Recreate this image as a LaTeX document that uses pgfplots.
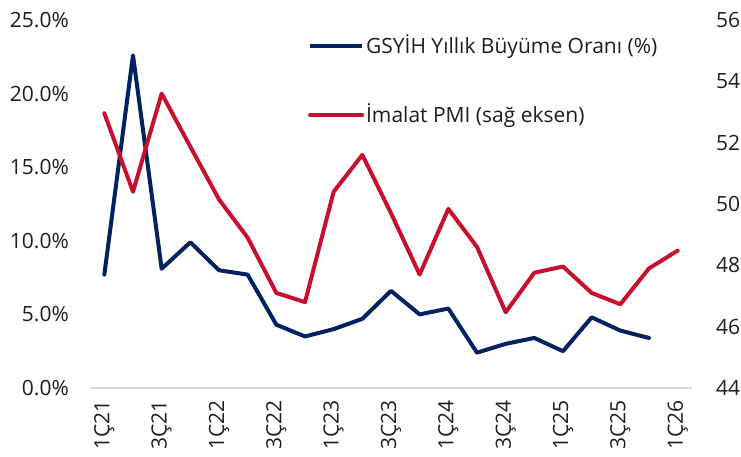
\documentclass[border=0pt]{standalone}
\usepackage{fontspec}
\setmainfont{Open Sans}
\usepackage{pgfplots}
\pgfplotsset{compat=1.18}
\definecolor{navy}{RGB}{0,35,95}
\definecolor{pmired}{RGB}{200,16,46}
\definecolor{axgray}{RGB}{217,217,217}
\definecolor{txt}{RGB}{30,30,30}

\begin{document}
\begin{tikzpicture}
\fontsize{21}{25}\selectfont
\path[use as bounding box] (-90pt,-69pt) rectangle (651pt,388pt);
\pgfplotsset{
  every axis/.append style={
    scale only axis, width=602pt, height=368pt,
    xmin=-0.5, xmax=20.5,
    /pgf/number format/assume math mode=true,
    major tick length=0pt,
    tick label style={font=\fontsize{21}{25}\selectfont, text=txt},
    clip=false,
  }
}
\begin{axis}[
  axis y line*=left, axis x line*=bottom,
  ymin=0, ymax=25, ytick={0,5,...,25},
  yticklabel={\pgfmathprintnumber[fixed,fixed zerofill,precision=1]{\tick}\%},
  yticklabel shift=14pt,
  y axis line style={draw=none},
  x axis line style={draw=axgray, line width=2pt, -},
  xtick={0,2,...,20},
  xticklabels={1Ç21,3Ç21,1Ç22,3Ç22,1Ç23,3Ç23,1Ç24,3Ç24,1Ç25,3Ç25,1Ç26},
  xticklabel style={rotate=90, anchor=east},
  xticklabel shift=5pt,
]
\addplot[navy, line width=4pt, line join=round, line cap=round] coordinates {
(0,7.7) (1,22.6) (2,8.1) (3,9.9) (4,8.0) (5,7.7) (6,4.3) (7,3.5) (8,4.0) (9,4.7)
(10,6.6) (11,5.0) (12,5.4) (13,2.4) (14,3.0) (15,3.4) (16,2.5) (17,4.8) (18,3.9) (19,3.4)
};
\end{axis}
\begin{axis}[
  axis y line*=right, axis x line=none,
  ymin=44, ymax=56, ytick={44,46,...,56},
  y axis line style={draw=none},
  yticklabel shift=17pt,
  legend image code/.code={\draw[#1] (0pt,0pt) -- (52pt,0pt);},
  legend cell align=left,
  legend style={at={(0.362,0.965)}, anchor=north west, draw=none, fill=none,
    inner sep=0pt, row sep=43pt, font=\fontsize{21}{25}\selectfont, text=txt},
]
\addlegendimage{navy, line width=4pt}
\addlegendentry{GSYİH Yıllık Büyüme Oranı (\%)}
\addplot[pmired, line width=4pt, line join=round, line cap=round] coordinates {
(0,52.96) (1,50.4) (2,53.6) (3,51.87) (4,50.15) (5,48.9) (6,47.1) (7,46.8) (8,50.4) (9,51.6)
(10,49.7) (11,47.7) (12,49.84) (13,48.6) (14,46.47) (15,47.76) (16,47.96) (17,47.1) (18,46.73) (19,47.9) (20,48.48)
};
\addlegendentry{İmalat PMI (sağ eksen)}
\end{axis}
\end{tikzpicture}
\end{document}
